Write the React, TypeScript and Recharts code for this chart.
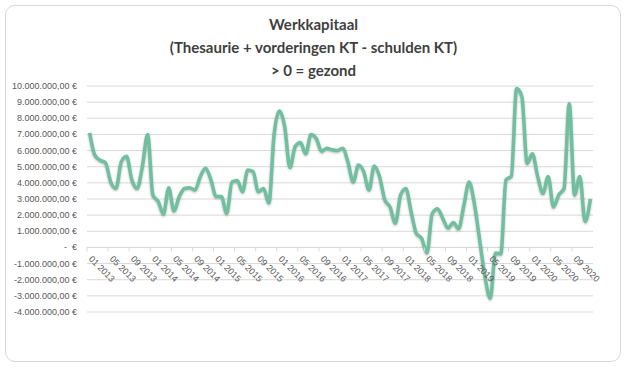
import React from 'react';
import { LineChart, Line, XAxis, YAxis, CartesianGrid, ReferenceLine } from 'recharts';

// werkkapitaal per maand, in miljoenen euro (jan 2013 - dec 2020)
const YEARS = [2013, 2014, 2015, 2016, 2017, 2018, 2019, 2020];
const MONTHS = ['01', '02', '03', '04', '05', '06', '07', '08', '09', '10', '11', '12'];

const VALUES = [
  // 2013
  7.1, 5.7, 5.4, 5.25, 4.05, 3.65, 5.3, 5.65, 4.2, 3.65, 5.0, 7.0,
  // 2014
  3.25, 2.85, 2.05, 3.7, 2.25, 3.15, 3.65, 3.7, 3.55, 4.4, 4.9, 4.2,
  // 2015
  3.15, 3.15, 2.1, 4.05, 4.15, 3.45, 4.8, 4.7, 3.45, 3.65, 2.75, 7.0,
  // 2016
  8.45, 7.5, 4.95, 6.25, 6.5, 5.8, 7.0, 6.75, 5.95, 6.15, 6.05, 6.0,
  // 2017
  6.15, 5.3, 4.05, 5.1, 4.7, 3.55, 5.05, 4.4, 2.95, 2.5, 1.5, 3.25,
  // 2018
  3.65, 2.2, 0.85, 0.55, -0.35, 2.1, 2.4, 1.8, 1.2, 1.55, 1.15, 2.6,
  // 2019
  4.05, 2.7, 0.45, -1.8, -3.15, -0.35, -0.4, 4.2, 4.4, 9.85, 9.35, 5.2,
  // 2020
  5.8, 4.4, 3.35, 4.4, 2.5, 3.25, 3.65, 8.9, 3.25, 4.4, 1.6, 3.0,
];

const Y_TICKS = [-4, -3, -2, -1, 0, 1, 2, 3, 4, 5, 6, 7, 8, 9, 10];

const TITLE_LINES = ['Werkkapitaal', '(Thesaurie + vorderingen KT - schulden KT)', '> 0 = gezond'];

const MONTH_LABELS: string[] = [];
YEARS.forEach((y) => MONTHS.forEach((m) => MONTH_LABELS.push(`${m} ${y}`)));

const data = MONTH_LABELS.map((month, i) => ({ month, value: VALUES[i] }));

const W = 627;
const H = 368;
const MARGIN = { top: 86, right: 34, bottom: 55, left: 7 };
const Y_AXIS_W = 80;
const PLOT_W = W - MARGIN.left - MARGIN.right - Y_AXIS_W;
const PLOT_H = H - MARGIN.top - MARGIN.bottom - 1;
const HALF_BAND = PLOT_W / MONTH_LABELS.length / 2;
const ZERO_Y = MARGIN.top + (PLOT_H * 10) / 14;
const FONT = 'Liberation Sans, Arial, sans-serif';

const formatEuro = (v: number) => {
  if (v === 0) return '-  €';
  const abs = Math.abs(v * 1000000).toFixed(0).replace(/\B(?=(\d{3})+(?!\d))/g, '.');
  return `${v < 0 ? '-' : ''}${abs},00 €`;
};

const EuroTick = (props: any) => {
  const { x, y, payload } = props;
  return (
    <text
      x={x}
      y={y}
      dy={3}
      textAnchor="end"
      fill="#595959"
      fontSize={9}
      fontFamily={FONT}
      style={{ whiteSpace: 'pre' }}
    >
      {formatEuro(payload.value)}
    </text>
  );
};

const MonthTick = (props: any) => {
  const { x, payload } = props;
  const tx = x - 1.5;
  const ty = ZERO_Y + 12;
  return (
    <g>
      <line x1={x - HALF_BAND} x2={x - HALF_BAND} y1={ZERO_Y} y2={ZERO_Y + 4} stroke="#D9D9D9" />
      <text
        x={tx}
        y={ty}
        transform={`rotate(45, ${tx}, ${ty})`}
        textAnchor="start"
        fill="#595959"
        fontSize={9}
        fontFamily={FONT}
      >
        {payload.value}
      </text>
    </g>
  );
};

export default function App() {
  return (
    <div style={{ position: 'absolute', left: 0, top: 0, width: W, height: H, background: '#fff' }}>
      <div
        style={{
          position: 'absolute',
          left: 5,
          top: 5,
          width: 614,
          height: 355,
          border: '1px solid #D9D9D9',
          borderRadius: 10,
        }}
      />
      <div
        style={{
          position: 'absolute',
          left: 0,
          top: 13,
          width: W,
          textAlign: 'center',
          fontFamily: 'Lato, sans-serif',
          fontWeight: 700,
          fontSize: 15,
          lineHeight: '23px',
          color: '#3F3F3F',
        }}
      >
        {TITLE_LINES.map((t) => (
          <div key={t}>{t}</div>
        ))}
      </div>
      <div style={{ position: 'absolute', left: 0, top: 0 }}>
        <LineChart width={W} height={H} data={data} margin={MARGIN}>
          <CartesianGrid vertical={false} stroke="#D9D9D9" />
          <XAxis
            dataKey="month"
            interval={3}
            height={1}
            axisLine={false}
            tickLine={false}
            padding={{ left: HALF_BAND, right: HALF_BAND }}
            tick={<MonthTick />}
          />
          <YAxis
            width={Y_AXIS_W}
            domain={[-4, 10]}
            ticks={Y_TICKS}
            interval={0}
            axisLine={false}
            tickLine={false}
            tickSize={0}
            tickMargin={10}
            tick={<EuroTick />}
          />
          <ReferenceLine y={0} stroke="#D9D9D9" />
          <Line
            type="monotone"
            dataKey="value"
            stroke="#70BFA0"
            strokeWidth={3.5}
            dot={false}
            isAnimationActive={false}
            style={{ filter: 'drop-shadow(0px 1px 1px rgba(0,0,0,0.25))' }}
          />
        </LineChart>
      </div>
    </div>
  );
}
